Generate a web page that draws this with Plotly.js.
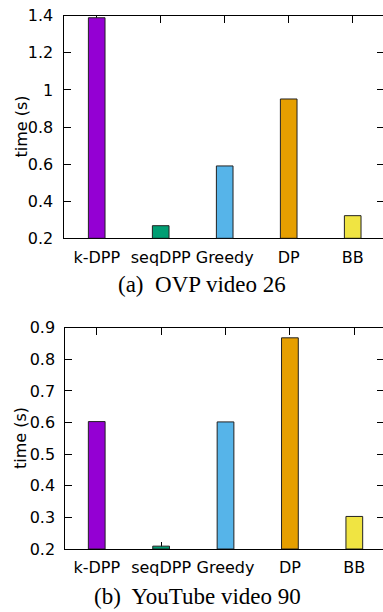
<!DOCTYPE html>
<html>
<head>
<meta charset="utf-8">
<script src="https://cdn.plot.ly/plotly-3.0.1.min.js"></script>
<style>
html,body{margin:0;padding:0;overflow:hidden;background:#fff;}
#chart{width:385px;height:612px;}
</style>
</head>
<body>
<div id="chart"></div>
<script>
const categories = ["k-DPP", "seqDPP", "Greedy", "DP", "BB"];
const timesOVP26 = [1.389, 0.268, 0.59, 0.951, 0.322];
const timesYT90 = [0.603, 0.209, 0.602, 0.868, 0.303];
const barColors = ["#9400d3", "#009e73", "#56b4e9", "#e69f00", "#f0e442"];
const yTicksTop = [0.2, 0.4, 0.6, 0.8, 1, 1.2, 1.4];
const yTicksBottom = [0.2, 0.3, 0.4, 0.5, 0.6, 0.7, 0.8, 0.9];
const captionTop = "(a)  OVP video 26";
const captionBottom = "(b)  YouTube video 90";
const yTitle = "time (s)";

const W = 385, H = 612;
const px = v => v / W;
const py = v => 1 - v / H;

const sans = {family: "DejaVu Sans, Verdana, sans-serif", size: 16, color: "#000"};
const serif = {family: "Liberation Serif, Times New Roman, serif", size: 23, color: "#000"};

const floorTop = 0.2, floorBottom = 0.2;
function bar(y, floor, xa, ya) {
  return {
    type: "bar", x: categories.map((c, i) => i), y: y.map(v => v - floor), base: floor,
    xaxis: xa, yaxis: ya, width: 0.26,
    marker: {color: barColors, line: {color: "#222", width: 1}},
    hoverinfo: "none", showlegend: false
  };
}
const t1 = bar(timesOVP26, floorTop, "x", "y");
const t2 = bar(timesYT90, floorBottom, "x2", "y2");

function xax(domain, range, anchor) {
  return {
    domain: domain, range: range, anchor: anchor,
    tickmode: "array", tickvals: categories.map((c, i) => i), ticktext: categories,
    ticks: "inside", ticklen: 7, tickwidth: 1, tickcolor: "#000",
    showline: true, linecolor: "#000", linewidth: 1, mirror: "ticks",
    showgrid: false, zeroline: false, layer: "below traces",
    tickfont: sans, ticklabelstandoff: 4, fixedrange: true
  };
}
function yax(domain, range, ticks, anchor) {
  return {
    domain: domain, range: range, anchor: anchor,
    tickmode: "array", tickvals: ticks, ticktext: ticks.map(String),
    ticks: "inside", ticklen: 7, tickwidth: 1, tickcolor: "#000",
    showline: true, linecolor: "#000", linewidth: 1, mirror: "ticks",
    showgrid: false, zeroline: false, layer: "below traces",
    tickfont: sans, ticklabelstandoff: 6, fixedrange: true
  };
}

function ann(text, x, y, font, angle) {
  return {text: text, xref: "paper", yref: "paper", x: px(x), y: py(y),
    xanchor: "center", yanchor: "middle", showarrow: false, font: font, textangle: angle || 0};
}

const layout = {
  width: W, height: H,
  margin: {l: 0, r: 0, t: 0, b: 0, pad: 0},
  paper_bgcolor: "#fff", plot_bgcolor: "#fff",
  showlegend: false,
  xaxis: xax([px(63.5), px(384)], [-0.519, 4.489], "y"),
  yaxis: yax([py(238.3), py(15.7)], [0.2, 1.4], yTicksTop, "x"),
  xaxis2: xax([px(65.3), px(384)], [-0.488, 4.461], "y2"),
  yaxis2: yax([py(549), py(327.7)], [0.2, 0.9], yTicksBottom, "x2"),
  annotations: [
    ann(yTitle, 20.5, 127, sans, -90),
    ann(yTitle, 20.5, 438.5, sans, -90),
    ann(captionTop, 202, 284, serif),
    ann(captionBottom, 198, 596, serif)
  ]
};

Plotly.newPlot("chart", [t1, t2], layout, {staticPlot: true, displayModeBar: false});
</script>
</body>
</html>
